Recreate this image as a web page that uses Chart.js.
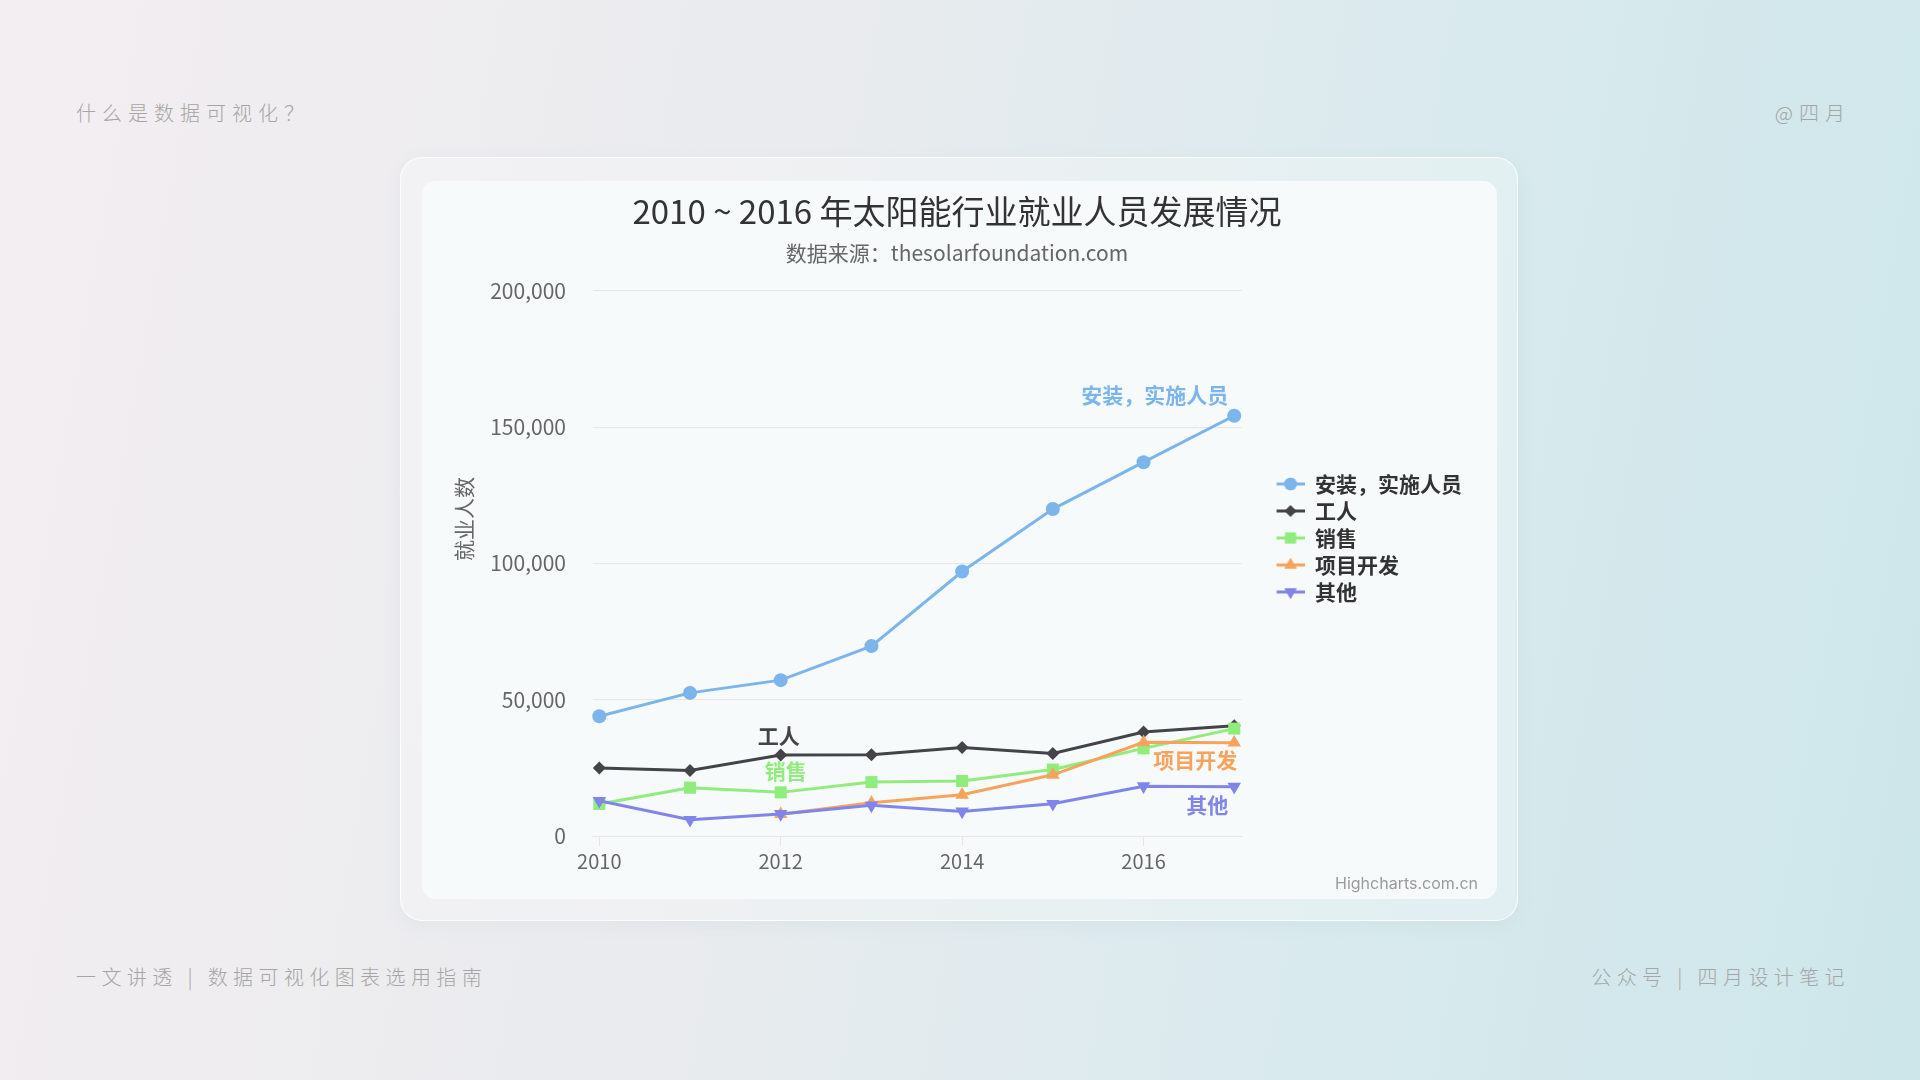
<!DOCTYPE html>
<html lang="zh-CN">
<head>
<meta charset="utf-8">
<title>2010 ~ 2016 年太阳能行业就业人员发展情况</title>
<script src="https://cdn.jsdelivr.net/npm/chart.js@4/dist/chart.umd.min.js"></script>
<style>
  html, body { margin: 0; padding: 0; }
  body {
    width: 1920px; height: 1080px; overflow: hidden; position: relative;
    background: linear-gradient(100deg, #f3eef1 0%, #e9ebee 40%, #d9eaee 70%, #cde6ea 100%);
    font-family: "Noto Sans CJK SC", "Noto Sans", sans-serif;
  }
  .corner {
    position: absolute; color: #a5a5a5; font-size: 20px; line-height: 30px;
    letter-spacing: 6px; font-weight: 300; white-space: nowrap;
  }
  .corner.low { letter-spacing: 5.4px; }
  .outer {
    position: absolute; left: 400px; top: 157px; width: 1116px; height: 762px;
    border-radius: 22px; border: 1px solid rgba(255,255,255,0.85);
    background: rgba(255,255,255,0.28);
    box-shadow: 0 4px 18px rgba(120,150,160,0.08);
  }
  .inner {
    position: absolute; left: 422px; top: 181px; width: 1075px; height: 718px;
    border-radius: 14px; background: #f7fafb;
  }
  .chart-box { position: absolute; left: 422px; top: 181px; width: 1075px; height: 718px; }
  .credits {
    position: absolute; right: 442px; top: 872px; font-size: 16px; color: #9a9a9a;
    font-family: "Inter", "Noto Sans", sans-serif; line-height: 22px;
  }
</style>
</head>
<body>
<div class="corner" style="left:76px; top:98px;">什么是数据可视化？</div>
<div class="corner" style="right:69px; top:98px;">@四月</div>
<div class="corner low" style="left:76px; top:962px;">一文讲透 | 数据可视化图表选用指南</div>
<div class="corner low" style="right:70px; top:962px;">公众号 | 四月设计笔记</div>

<div class="outer"></div>
<div class="inner"></div>
<div class="chart-box"><canvas id="solarChart"></canvas></div>
<div class="credits">Highcharts.com.cn</div>

<script>
// data
const years = [2010, 2011, 2012, 2013, 2014, 2015, 2016, 2017];
const installers = [43934, 52503, 57177, 69658, 97031, 119931, 137133, 154175];
const manufacturing = [24916, 24064, 29742, 29851, 32490, 30282, 38121, 40434];
const sales = [11744, 17722, 16005, 19771, 20185, 24377, 32147, 39387];
const projectDev = [null, null, 7988, 12169, 15112, 22452, 34400, 34227];
const other = [12908, 5948, 8105, 11248, 8989, 11816, 18274, 18111];

const seriesNames = ["安装，实施人员", "工人", "销售", "项目开发", "其他"];
const xTickYears = [2010, 2012, 2014, 2016];
const yTickValues = [0, 50000, 100000, 150000, 200000];

const colors = ["#7cb5ec", "#434348", "#90ed7d", "#f7a35c", "#8085e9"];
const markers = [
  { style: "circle", radius: 7, rotation: 0 },
  { style: "rectRot", radius: 6.5, rotation: 0 },
  { style: "rect", radius: 8.5, rotation: 0 },
  { style: "triangle", radius: 7.8, rotation: 0 },
  { style: "triangle", radius: 7.8, rotation: 180 }
];

// where the series name sits, relative to one of its points
const seriesLabelSpots = [
  { index: 7, dx: -6, dy: -21, align: "right" },
  { index: 2, dx: -2, dy: -19, align: "center" },
  { index: 2, dx: 5, dy: -21, align: "center" },
  { index: 7, dx: 3, dy: 17, align: "right" },
  { index: 7, dx: -6, dy: 18, align: "right" }
];

const FONT = '"Noto Sans CJK SC", "Noto Sans", sans-serif';
const allSeries = [installers, manufacturing, sales, projectDev, other];

// legend symbol: short line with the marker in the middle (transparent left margin gives the gap)
function legendIcon(i) {
  const c = document.createElement("canvas");
  c.width = 57; c.height = 18;
  const ctx = c.getContext("2d");
  const cx = c.width - 14, cy = c.height / 2;
  ctx.strokeStyle = colors[i];
  ctx.lineWidth = 3;
  ctx.beginPath(); ctx.moveTo(c.width - 28, cy); ctx.lineTo(c.width, cy); ctx.stroke();
  ctx.fillStyle = colors[i];
  Chart.helpers.drawPoint(ctx, {
    pointStyle: markers[i].style,
    radius: markers[i].radius * 0.9,
    rotation: markers[i].rotation,
    borderWidth: 0
  }, cx, cy);
  ctx.fill();
  return c;
}

const seriesLabelPlugin = {
  id: "seriesLabels",
  afterDatasetsDraw(chart) {
    const ctx = chart.ctx;
    const xs = chart.scales.x, ys = chart.scales.y;
    ctx.save();
    ctx.font = "bold 21px " + FONT;
    ctx.textBaseline = "middle";
    seriesLabelSpots.forEach((spot, i) => {
      const v = allSeries[i][spot.index];
      const px = xs.getPixelForValue(years[spot.index]) + spot.dx;
      const py = ys.getPixelForValue(v) + spot.dy;
      ctx.textAlign = spot.align;
      ctx.fillStyle = colors[i];
      ctx.fillText(seriesNames[i], px, py);
    });
    ctx.restore();
  }
};

const datasets = allSeries.map((series, i) => ({
  label: seriesNames[i],
  data: years.map((yr, k) => ({ x: yr, y: series[k] })),
  borderColor: colors[i],
  backgroundColor: colors[i],
  borderWidth: 3,
  pointStyle: markers[i].style,
  pointRadius: markers[i].radius,
  pointRotation: markers[i].rotation,
  pointBorderWidth: 0,
  pointHoverRadius: markers[i].radius,
  tension: 0,
  clip: false,
  order: allSeries.length - 1 - i
}));

const legendIcons = seriesNames.map((_, i) => legendIcon(i));

new Chart(document.getElementById("solarChart"), {
  type: "line",
  data: { datasets },
  plugins: [seriesLabelPlugin],
  options: {
    responsive: true,
    maintainAspectRatio: false,
    animation: false,
    layout: { padding: { left: 20, right: 25, top: 0, bottom: 4 } },
    plugins: {
      title: {
        display: true,
        text: "2010 ~ 2016 年太阳能行业就业人员发展情况",
        color: "#333333",
        font: { family: FONT, size: 33, weight: "normal" },
        padding: { top: 11, bottom: 0 }
      },
      subtitle: {
        display: true,
        text: "数据来源：thesolarfoundation.com",
        color: "#666666",
        font: { family: FONT, size: 21, weight: "normal" },
        padding: { top: 9, bottom: 25 }
      },
      legend: {
        position: "right",
        align: "center",
        labels: {
          usePointStyle: true,
          pointStyleWidth: 57,
          padding: 6,
          color: "#333333",
          font: { family: FONT, size: 21, weight: "bold" },
          sort: (a, b) => a.datasetIndex - b.datasetIndex,
          generateLabels(chart) {
            const items = Chart.defaults.plugins.legend.labels.generateLabels(chart);
            items.forEach(item => {
              item.pointStyle = legendIcons[item.datasetIndex];
              item.rotation = 0;
            });
            return items;
          }
        }
      },
      tooltip: { enabled: false }
    },
    scales: {
      x: {
        type: "linear",
        min: 2009.93,
        max: 2017.08,
        afterBuildTicks(scale) { scale.ticks = xTickYears.map(v => ({ value: v })); },
        afterFit(scale) { scale.height += 19; },
        border: { display: true, color: "#e6e6e6" },
        grid: { display: true, drawOnChartArea: false, drawTicks: true, tickLength: 10, color: "#e6e6e6" },
        ticks: {
          color: "#666666",
          padding: 3,
          font: { family: FONT, size: 20 },
          callback: v => String(v)
        }
      },
      y: {
        min: 0,
        max: 200000,
        afterBuildTicks(scale) { scale.ticks = yTickValues.map(v => ({ value: v })); },
        border: { display: false },
        grid: { color: "#e6e6e6", lineWidth: 1, drawTicks: true, tickLength: 27, tickColor: "rgba(0,0,0,0)" },
        ticks: {
          color: "#666666",
          padding: 0,
          font: { family: FONT, size: 21 },
          callback: v => v.toLocaleString("en-US")
        },
        title: {
          display: true,
          // leading spaces lift the title a little above the axis middle, as in the reference
          text: "\u3000\u3000\u3000\u3000 就业人数",
          color: "#666666",
          font: { family: FONT, size: 21, weight: "normal" },
          padding: { top: 9, bottom: 14 }
        }
      }
    }
  }
});
</script>
</body>
</html>
